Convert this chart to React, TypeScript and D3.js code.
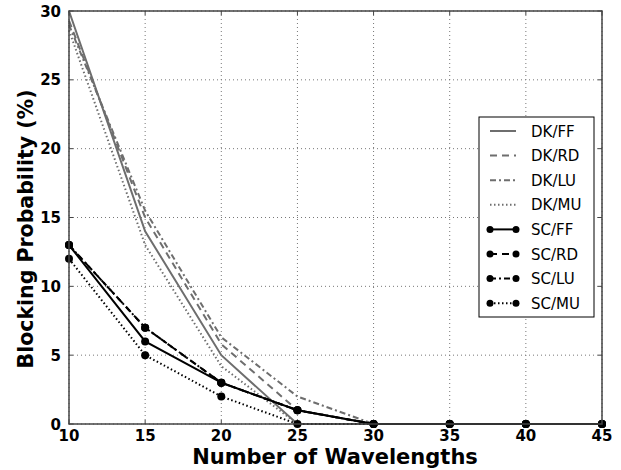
import React from "react";
import * as d3 from "d3";

const xValues = [10, 15, 20, 25, 30, 35, 40, 45];
const dkFF = [30, 14, 5, 0, 0, 0, 0, 0];
const dkRD = [29.3, 15, 5.8, 1, 0, 0, 0, 0];
const dkLU = [29, 15.5, 6.3, 2, 0, 0, 0, 0];
const dkMU = [28.6, 13, 4.2, 0, 0, 0, 0, 0];
const scFF = [13, 6, 3, 1, 0, 0, 0, 0];
const scRD = [13, 7, 3, 1, 0, 0, 0, 0];
const scLU = [13, 7, 3, 1, 0, 0, 0, 0];
const scMU = [12, 5, 2, 0, 0, 0, 0, 0];
const xTicks = [10, 15, 20, 25, 30, 35, 40, 45];
const yTicks = [0, 5, 10, 15, 20, 25, 30];

const GRAY = "#6e6e6e";
const series = [
  { name: "DK/FF", values: dkFF, color: GRAY, dash: "", marker: false },
  { name: "DK/RD", values: dkRD, color: GRAY, dash: "7,5", marker: false },
  { name: "DK/LU", values: dkLU, color: GRAY, dash: "6,3,2,3", marker: false },
  { name: "DK/MU", values: dkMU, color: GRAY, dash: "1.5,2.5", marker: false },
  { name: "SC/FF", values: scFF, color: "#000", dash: "", marker: true },
  { name: "SC/RD", values: scRD, color: "#000", dash: "7,5", marker: true },
  { name: "SC/LU", values: scLU, color: "#000", dash: "6,3,2,3", marker: true },
  { name: "SC/MU", values: scMU, color: "#000", dash: "1.5,2.5", marker: true },
];

export default function App() {
  const W = 621, H = 470;
  const L = 69, R = 602, T = 11, B = 424;
  const x = d3.scaleLinear().domain([10, 45]).range([L, R]);
  const y = d3.scaleLinear().domain([0, 30]).range([B, T]);
  const line = d3.line<number>().x((_, i) => x(xValues[i])).y((d) => y(d));
  const font = "DejaVu Sans, sans-serif";
  const legX = 479, legY = 117, legW = 115, legH = 200, rowH = 24.6;
  return (
    <svg width={W} height={H} style={{ position: "absolute", left: 0, top: 0 }}>
      <rect x={0} y={0} width={W} height={H} fill="#fff" />
      {/* grid */}
      {xTicks.map((t) => (
        <line key={"gx" + t} x1={x(t)} x2={x(t)} y1={T} y2={B} stroke="#777" strokeWidth={1} strokeDasharray="1,3" />
      ))}
      {yTicks.map((t) => (
        <line key={"gy" + t} x1={L} x2={R} y1={y(t)} y2={y(t)} stroke="#777" strokeWidth={1} strokeDasharray="1,3" />
      ))}
      {/* ticks */}
      {xTicks.map((t) => (
        <g key={"tx" + t}>
          <line x1={x(t)} x2={x(t)} y1={B} y2={B - 4} stroke="#444" />
          <line x1={x(t)} x2={x(t)} y1={T} y2={T + 4} stroke="#444" />
          <text x={x(t)} y={441} textAnchor="middle" fontFamily={font} fontWeight="bold" fontSize={15}>{t}</text>
        </g>
      ))}
      {yTicks.map((t) => (
        <g key={"ty" + t}>
          <line x1={L} x2={L + 4} y1={y(t)} y2={y(t)} stroke="#444" />
          <line x1={R} x2={R - 4} y1={y(t)} y2={y(t)} stroke="#444" />
          <text x={61} y={y(t) + 5.5} textAnchor="end" fontFamily={font} fontWeight="bold" fontSize={15}>{t}</text>
        </g>
      ))}
      {/* series */}
      {series.map((s) => (
        <g key={s.name}>
          <path d={line(s.values) || ""} fill="none" stroke={s.color} strokeWidth={2} strokeDasharray={s.dash} />
          {s.marker && s.values.map((v, i) => (
            <circle key={i} cx={x(xValues[i])} cy={y(v)} r={4} fill="#000" />
          ))}
        </g>
      ))}
      {/* frame */}
      <rect x={L} y={T} width={R - L} height={B - T} fill="none" stroke="#444" strokeWidth={1.5} />
      {/* axis labels */}
      <text x={335} y={464} textAnchor="middle" fontFamily={font} fontWeight="bold" fontSize={21}>Number of Wavelengths</text>
      <text transform={`translate(33,229) rotate(-90)`} textAnchor="middle" fontFamily={font} fontWeight="bold" fontSize={20.5}>Blocking Probability (%)</text>
      {/* legend */}
      <rect x={legX} y={legY} width={legW} height={legH} fill="#fff" stroke="#000" strokeWidth={1} />
      {series.map((s, i) => {
        const cy = legY + 14 + i * rowH;
        return (
          <g key={"lg" + s.name}>
            <line x1={490} x2={516} y1={cy} y2={cy} stroke={s.color} strokeWidth={2} strokeDasharray={s.dash} />
            {s.marker && (
              <>
                <circle cx={490} cy={cy} r={3.5} fill="#000" />
                <circle cx={516} cy={cy} r={3.5} fill="#000" />
              </>
            )}
            <text x={531} y={cy + 5.5} fontFamily={font} fontSize={15}>{s.name}</text>
          </g>
        );
      })}
    </svg>
  );
}
